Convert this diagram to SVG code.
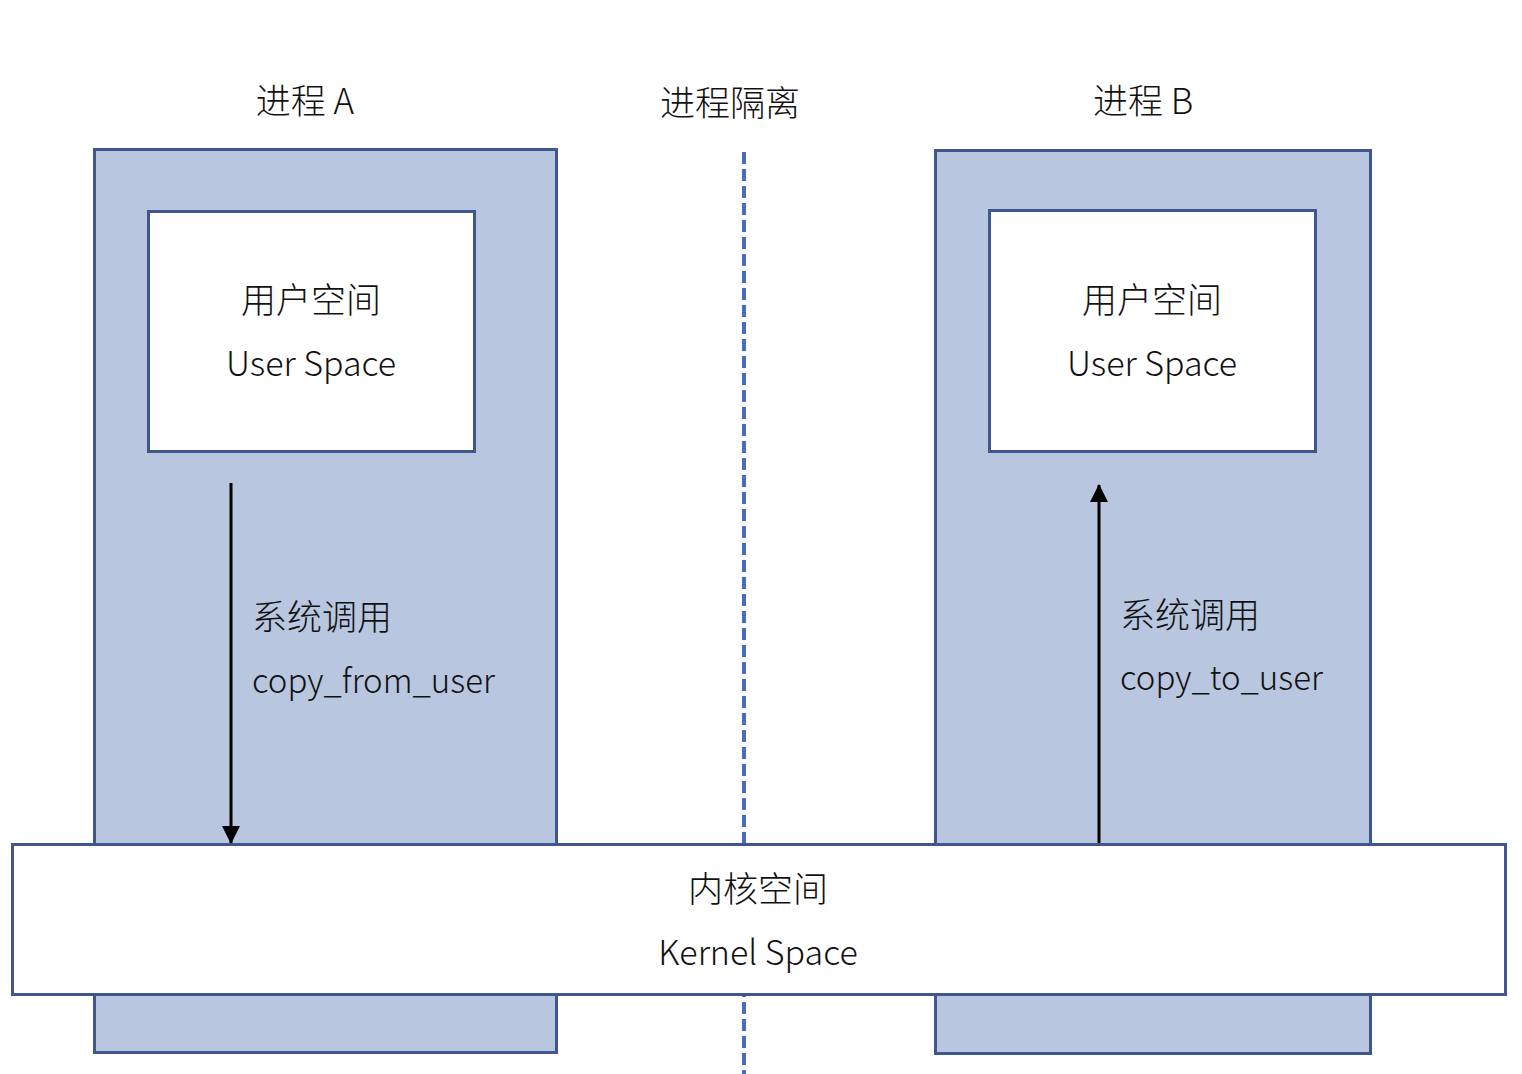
<svg xmlns="http://www.w3.org/2000/svg" width="1522" height="1074" viewBox="0 0 1522 1074">
<style>
.proc{fill:#b9c6e0;stroke:#41558e;stroke-width:3}
.box{fill:#ffffff;stroke:#41558e;stroke-width:3}
text{font-family:"Noto Sans CJK SC","Noto Sans",sans-serif;font-size:34px;fill:#111111;font-weight:300}
.cjk{font-size:35px}
.lab{font-size:33px}
.c{text-anchor:middle}
.conn{stroke:#000;stroke-width:3;fill:none}
.sep{stroke:#4a6cbf;stroke-width:4;stroke-dasharray:12 5;fill:none}
</style>
<defs>
<marker id="ah" markerWidth="18" markerHeight="18" refX="17" refY="9" orient="auto" markerUnits="userSpaceOnUse">
<path d="M0,0 L18,9 L0,18 z" fill="#000"/>
</marker>
</defs>
<rect width="1522" height="1074" fill="#ffffff"/>
<g id="sep">
<line class="sep" x1="744" y1="152" x2="744" y2="1074"/>
<text class="c cjk" x="730" y="116">进程隔离</text>
</g>
<g id="procA">
<rect class="proc" x="94.5" y="149.5" width="462" height="903"/>
<text class="c cjk" x="305" y="114">进程 A</text>
</g>
<g id="procB">
<rect class="proc" x="935.5" y="150.5" width="435" height="903"/>
<text class="c cjk" x="1143" y="114">进程 B</text>
</g>
<g id="userA">
<rect class="box" x="148.5" y="211.5" width="326" height="240"/>
<text class="c cjk" x="311" y="313">用户空间</text>
<text class="c" x="311" y="376">User Space</text>
</g>
<g id="userB">
<rect class="box" x="989.5" y="210.5" width="326" height="241"/>
<text class="c cjk" x="1152" y="313">用户空间</text>
<text class="c" x="1152" y="376">User Space</text>
</g>
<g id="connectors">
<line class="conn" x1="231" y1="483" x2="231" y2="843" marker-end="url(#ah)"/>
<line class="conn" x1="1099" y1="844" x2="1099" y2="485" marker-end="url(#ah)"/>
</g>
<g id="labelA">
<text class="cjk" x="252" y="630">系统调用</text>
<text class="lab" x="252" y="693">copy_from_user</text>
</g>
<g id="labelB">
<text class="cjk" x="1120" y="628">系统调用</text>
<text class="lab" x="1120" y="690">copy_to_user</text>
</g>
<g id="kernel">
<rect class="box" x="12.5" y="844.5" width="1493" height="150"/>
<text class="c cjk" x="758" y="902">内核空间</text>
<text class="c" x="758" y="965">Kernel Space</text>
</g>
</svg>
